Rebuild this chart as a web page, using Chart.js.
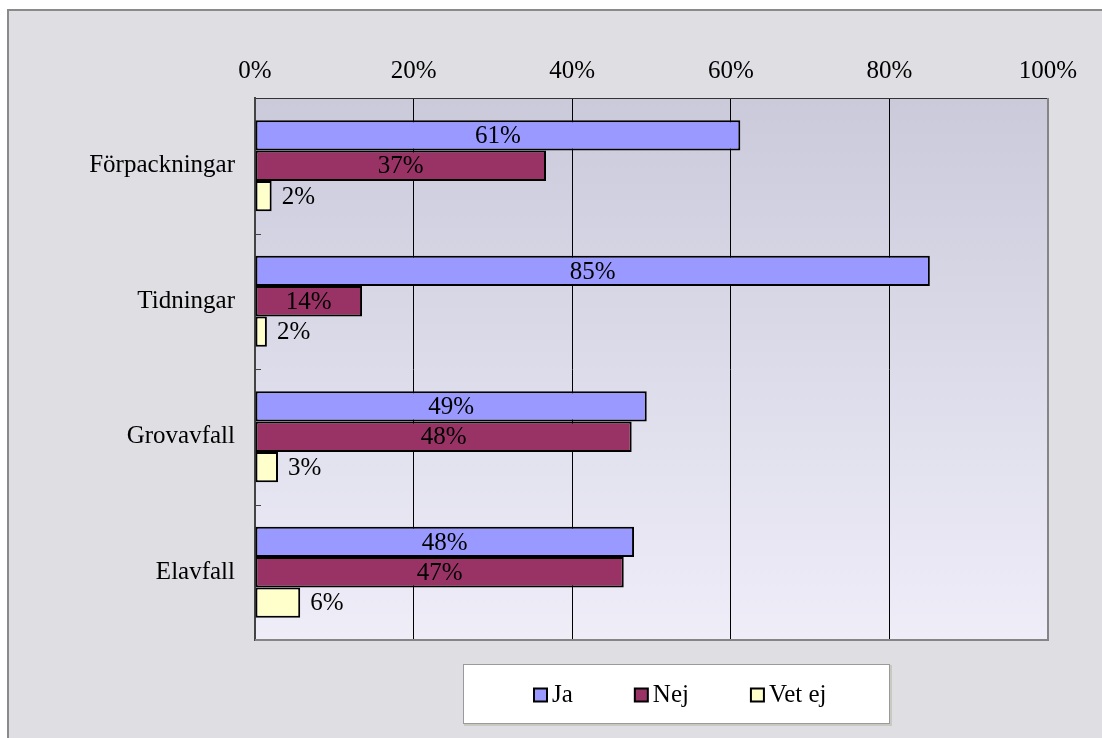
<!DOCTYPE html>
<html>
<head>
<meta charset="utf-8">
<script src="https://cdn.jsdelivr.net/npm/chart.js@4"></script>
<style>
    html, body { margin: 0; padding: 0; background: #fff; }
    #wrap { width: 1102px; height: 738px; }
</style>
</head>
<body>
<div id="wrap"><canvas id="chart" width="1102" height="738"></canvas></div>
<script>
// Chart data
const categories = ['Förpackningar', 'Tidningar', 'Grovavfall', 'Elavfall'];
const seriesLabels = ['Ja', 'Nej', 'Vet ej'];
const jaValues = [61.2, 85.1, 49.4, 47.8];
const nejValues = [36.7, 13.5, 47.5, 46.5];
const vetEjValues = [2.1, 1.5, 2.9, 5.7];
const xTickValues = [0, 20, 40, 60, 80, 100];
const seriesColors = ['#9999ff', '#993366', '#ffffcc'];

const FONT_FAMILY = '"Liberation Serif", "DejaVu Serif", serif';
const FONT_SIZE = 25;

// Outer background, border and plot gradient
const backgroundPlugin = {
    id: 'backgroundPlugin',
    beforeDraw(chart) {
        const ctx = chart.ctx;
        const area = chart.chartArea;
        ctx.save();
        ctx.fillStyle = '#ffffff';
        ctx.fillRect(0, 0, chart.width, chart.height);
        ctx.fillStyle = '#dfdee3';
        ctx.fillRect(8, 9, chart.width - 8, chart.height - 9);
        ctx.strokeStyle = '#8a8a8a';
        ctx.lineWidth = 2;
        ctx.beginPath();
        ctx.moveTo(8, chart.height);
        ctx.lineTo(8, 10);
        ctx.lineTo(chart.width, 10);
        ctx.stroke();

        const grad = ctx.createLinearGradient(0, area.top, 0, area.bottom);
        grad.addColorStop(0, '#cbcadb');
        grad.addColorStop(1, '#eeedf8');
        ctx.fillStyle = grad;
        ctx.fillRect(area.left, area.top, area.right - area.left, area.bottom - area.top);
        ctx.restore();
    }
};

// Value labels on the bars
const valueLabels = {
    id: 'valueLabels',
    afterDatasetsDraw(chart) {
        const ctx = chart.ctx;
        ctx.save();
        ctx.font = `${FONT_SIZE}px ${FONT_FAMILY}`;
        ctx.fillStyle = '#000';
        ctx.textBaseline = 'middle';
        chart.data.datasets.forEach((ds, di) => {
            const meta = chart.getDatasetMeta(di);
            meta.data.forEach((bar, i) => {
                const txt = Math.round(ds.data[i]) + '%';
                if (di < 2) {
                    ctx.textAlign = 'center';
                    ctx.fillText(txt, (bar.x + bar.base) / 2, bar.y + 1);
                } else {
                    ctx.textAlign = 'left';
                    ctx.fillText(txt, bar.x + 10, bar.y + 1);
                }
            });
        });
        ctx.restore();
    }
};

// Plot frame, inside tick marks and legend box
const framePlugin = {
    id: 'framePlugin',
    afterDraw(chart) {
        const ctx = chart.ctx;
        const area = chart.chartArea;
        const yScale = chart.scales.y;
        ctx.save();

        // right and bottom frame
        ctx.strokeStyle = '#858585';
        ctx.lineWidth = 2;
        ctx.beginPath();
        ctx.moveTo(area.right, area.top);
        ctx.lineTo(area.right, area.bottom);
        ctx.lineTo(area.left, area.bottom);
        ctx.stroke();

        // tick marks between categories
        ctx.strokeStyle = '#444';
        ctx.lineWidth = 1;
        for (let i = 0; i < categories.length - 1; i++) {
            const y = Math.round((yScale.getPixelForValue(i) + yScale.getPixelForValue(i + 1)) / 2) + 0.5;
            ctx.beginPath();
            ctx.moveTo(area.left, y);
            ctx.lineTo(area.left + 6, y);
            ctx.stroke();
        }

        // legend
        const box = { x: 463, y: 664, w: 427, h: 60 };
        ctx.fillStyle = '#c9c9c2';
        ctx.fillRect(box.x + 1, box.y + 1, box.w + 1, box.h + 1);
        ctx.fillStyle = '#ffffff';
        ctx.fillRect(box.x, box.y, box.w, box.h);
        ctx.strokeStyle = '#9a9a9a';
        ctx.lineWidth = 1;
        ctx.strokeRect(box.x + 0.5, box.y + 0.5, box.w - 1, box.h - 1);

        ctx.font = `${FONT_SIZE}px ${FONT_FAMILY}`;
        ctx.textBaseline = 'middle';
        ctx.textAlign = 'left';
        const sq = 13, gapText = 5, gapItem = 62;
        const items = chart.data.datasets.map(ds => ({
            label: ds.label,
            color: ds.backgroundColor,
            w: ctx.measureText(ds.label).width
        }));
        const total = items.reduce((s, it) => s + sq + gapText + it.w, 0) + gapItem * (items.length - 1);
        let x = Math.round(box.x + box.w / 2 - total / 2 + 4);
        const cy = box.y + box.h / 2 + 1;
        items.forEach(it => {
            ctx.fillStyle = it.color;
            ctx.fillRect(x, cy - sq / 2, sq, sq);
            ctx.strokeStyle = '#000';
            ctx.lineWidth = 2;
            ctx.strokeRect(x, cy - sq / 2, sq, sq);
            ctx.fillStyle = '#000';
            ctx.fillText(it.label, x + sq + gapText, cy);
            x += sq + gapText + it.w + gapItem;
        });
        ctx.restore();
    }
};

const ctx = document.getElementById('chart');

const chart = new Chart(ctx, {
    type: 'bar',
    data: {
        labels: categories,
        datasets: [
            { label: seriesLabels[0], data: jaValues, backgroundColor: seriesColors[0] },
            { label: seriesLabels[1], data: nejValues, backgroundColor: seriesColors[1] },
            { label: seriesLabels[2], data: vetEjValues, backgroundColor: seriesColors[2] }
        ].map(ds => Object.assign(ds, {
            borderColor: '#000',
            borderWidth: 2,
            borderSkipped: false,
            categoryPercentage: 0.67,
            barPercentage: 1.0
        }))
    },
    options: {
        indexAxis: 'y',
        responsive: false,
        animation: false,
        layout: {
            padding: { left: 10, right: 54, top: 10, bottom: 98 }
        },
        plugins: {
            legend: { display: false },
            tooltip: { enabled: false }
        },
        scales: {
            x: {
                type: 'linear',
                position: 'top',
                min: 0,
                max: 100,
                afterBuildTicks(scale) {
                    scale.ticks = xTickValues.map(v => ({ value: v }));
                },
                afterFit(scale) {
                    scale.height = 88;
                },
                ticks: {
                    callback: v => v + '%',
                    color: '#000',
                    padding: 12,
                    maxRotation: 0,
                    font: { family: FONT_FAMILY, size: FONT_SIZE }
                },
                grid: {
                    drawTicks: false,
                    lineWidth: 1,
                    color: c => (c.index === 0 || c.index === xTickValues.length - 1) ? 'rgba(0,0,0,0)' : '#000'
                },
                border: { display: true, color: '#333', width: 1 }
            },
            y: {
                type: 'category',
                afterFit(scale) {
                    scale.width = 245;
                },
                ticks: {
                    color: '#000',
                    padding: 20,
                    font: { family: FONT_FAMILY, size: FONT_SIZE }
                },
                grid: { display: false, drawTicks: false },
                border: { display: true, color: '#444', width: 2 }
            }
        }
    },
    plugins: [backgroundPlugin, valueLabels, framePlugin]
});
</script>
</body>
</html>
